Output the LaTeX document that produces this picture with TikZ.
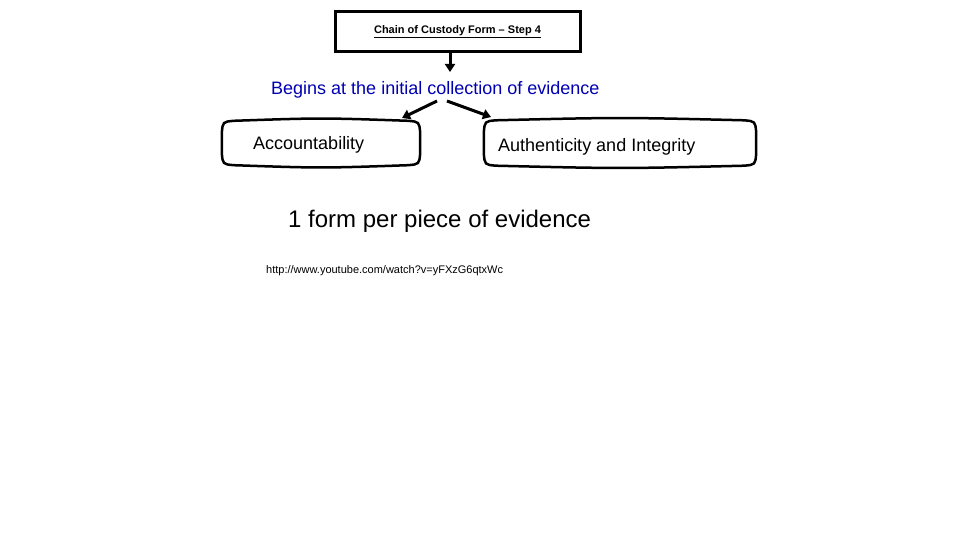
\documentclass[tikz,border=0pt]{standalone}
\usepackage{fontspec}
\setmainfont{Liberation Sans}
\usetikzlibrary{arrows.meta}
\begin{document}
\begin{tikzpicture}[x=1pt,y=-1pt,
  conn/.style={draw=black,line width=3pt,-{Triangle[length=8pt,width=10pt]}},
  lbl/.style={inner sep=0pt,anchor=west},
  bx/.style={draw=black,line width=3pt}]
\useasboundingbox (0,0) rectangle (960,540);
\node[bx,minimum width=245pt,minimum height=40pt,inner sep=0pt] (title) at (457.5,32)
  {\fontsize{11}{13}\selectfont\bfseries\underline{Chain of Custody Form – Step 4}};
\node[lbl,text=blue!70!black] (begin) at (271,89.5)
  {\fontsize{18}{21}\selectfont Begins at the initial collection of evidence};
\node[inner sep=0pt,minimum width=198pt,minimum height=44pt] (acc) at (321,143) {};
\node[inner sep=0pt,minimum width=272pt,minimum height=45pt] (auth) at (620,143) {};
\foreach \n in {acc,auth}{
  \draw[line width=2.5pt,line join=round]
    ([shift={(0,12)}]\n.north west) -- ([shift={(0,-12)}]\n.south west)
    .. controls ([shift={(1,-1)}]\n.south west) .. ([shift={(12,0)}]\n.south west)
    .. controls ([shift={(0,3)}]\n.south) .. ([shift={(-12,0)}]\n.south east)
    .. controls ([shift={(-1,-1)}]\n.south east) .. ([shift={(0,-12)}]\n.south east)
    -- ([shift={(0,12)}]\n.north east)
    .. controls ([shift={(-1,1)}]\n.north east) .. ([shift={(-12,0)}]\n.north east)
    .. controls ([shift={(0,-3)}]\n.north) .. ([shift={(12,0)}]\n.north west)
    .. controls ([shift={(1,1)}]\n.north west) .. cycle;
}
\node[lbl] (acct) at (253,144.5) {\fontsize{18}{21}\selectfont Accountability};
\node[lbl] (autht) at (498,146.5) {\fontsize{18}{21}\selectfont Authenticity and Integrity};
\node[lbl] (form) at (288,221) {\fontsize{24}{28}\selectfont 1 form per piece of evidence};
\node[lbl] (url) at (266,271) {\fontsize{11}{13}\selectfont http://www.youtube.com/watch?v=yFXzG6qtxWc};
\coordinate (t1) at (450,52);
\coordinate (t2) at (450,72);
\draw[conn] (t1) -- (t2);
\coordinate (l1) at (437,101);
\coordinate (l2) at (402,118);
\draw[conn] (l1) -- (l2);
\coordinate (r1) at (447,101);
\coordinate (r2) at (491,117);
\draw[conn] (r1) -- (r2);
\end{tikzpicture}
\end{document}
